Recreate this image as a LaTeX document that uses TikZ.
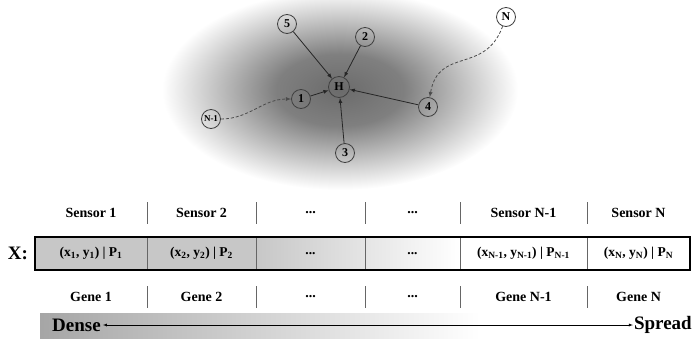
\documentclass[tikz,border=0pt]{standalone}
\usepackage{fontspec}
\setmainfont{Liberation Serif}
\usetikzlibrary{arrows}
\pgfdeclareradialshading{cloud}{\pgfpoint{0bp}{0bp}}{color(0bp)=(black!58); color(9bp)=(black!50); color(25bp)=(white); color(50bp)=(white)}

\begin{document}
\begin{tikzpicture}[x=1pt,y=-1pt]
\tikzset{sensor/.style={circle, draw=black!75, thick, inner sep=0pt, minimum size=19pt, font=\bfseries\fontsize{12}{12}\selectfont}}
\tikzset{link/.style={-latex, black!85, thick}}
\tikzset{hop/.style={-latex, black!70, thick, dash pattern=on 3pt off 2pt}}
\tikzset{cell/.style={draw=black!60, minimum height=33pt, inner sep=0pt, font=\bfseries\fontsize{13.5}{14}\selectfont}}
\tikzset{rowtext/.style={font=\bfseries\fontsize{14}{14}\selectfont}}
\tikzset{bigtext/.style={font=\bfseries\fontsize{19}{19}\selectfont}}
\useasboundingbox (0,0) rectangle (693,338);
% sensor field
\shade[shading=cloud] (340,90) ellipse (178 and 100);
\node[sensor, minimum size=21pt] (H) at (339,87) {H};
\node[sensor] (n1) at (301,99) {1};
\node[sensor] (n2) at (365,37) {2};
\node[sensor] (n3) at (345,153) {3};
\node[sensor] (n4) at (428,107) {4};
\node[sensor] (n5) at (287,24) {5};
\node[sensor, font=\bfseries\fontsize{9}{9}\selectfont] (nm) at (211,119) {N-1};
\node[sensor] (nn) at (506,17) {N};
\draw[link] (n1) -- (H);
\draw[link] (n2) -- (H);
\draw[link] (n3) -- (H);
\draw[link] (n4) -- (H);
\draw[link] (n5) -- (H);
\draw[hop] (nm) to[out=0,in=180] (n1);
\draw[hop] (nn) to[out=-110,in=80,looseness=1.3] (n4);
% chromosome
\fill[black!22] (35,237) rectangle (256,270);
\shade[left color=black!22, right color=white] (256,237) rectangle (460,270);
\node[cell, minimum width=112pt] (c1) at (91,253.5) {(x\textsubscript{1}, y\textsubscript{1}) | P\textsubscript{1}};
\node[cell, minimum width=109pt] (c2) at (201.5,253.5) {(x\textsubscript{2}, y\textsubscript{2}) | P\textsubscript{2}};
\node[cell, minimum width=109pt] (c3) at (310.5,253.5) {...};
\node[cell, minimum width=95pt] (c4) at (412.5,253.5) {...};
\node[cell, minimum width=127pt] (c5) at (523.5,253.5) {(x\textsubscript{N-1}, y\textsubscript{N-1}) | P\textsubscript{N-1}};
\node[cell, minimum width=103pt] (c6) at (638.5,253.5) {(x\textsubscript{N}, y\textsubscript{N}) | P\textsubscript{N}};
\draw[line width=2.5pt] (35,237) rectangle (690,270);
\node[bigtext] (X) at (18,253.5) {X:};
\node[rowtext] (s1) at (91,213) {Sensor 1};
\node[rowtext] (s2) at (201.5,213) {Sensor 2};
\node[rowtext] (s3) at (310.5,213) {...};
\node[rowtext] (s4) at (412.5,213) {...};
\node[rowtext] (s5) at (523.5,213) {Sensor N-1};
\node[rowtext] (s6) at (638.5,213) {Sensor N};
\node[rowtext] (g1) at (91,297) {Gene 1};
\node[rowtext] (g2) at (201.5,297) {Gene 2};
\node[rowtext] (g3) at (310.5,297) {...};
\node[rowtext] (g4) at (412.5,297) {...};
\node[rowtext] (g5) at (523.5,297) {Gene N-1};
\node[rowtext] (g6) at (638.5,297) {Gene N};
\foreach \x in {147,256,365,460,587}
  \draw[black!60] (\x,202) -- (\x,224) (\x,286) -- (\x,308);
% density scale
\shade[left color=black!35, right color=white] (40,313) rectangle (480,338);
\node[bigtext, anchor=west, inner sep=2pt] (dense) at (50,325) {Dense};
\node[bigtext, anchor=east, inner sep=1pt] (spread) at (693,325) {Spread};
\draw[latex-latex] (dense) -- (spread);
\end{tikzpicture}
\end{document}
